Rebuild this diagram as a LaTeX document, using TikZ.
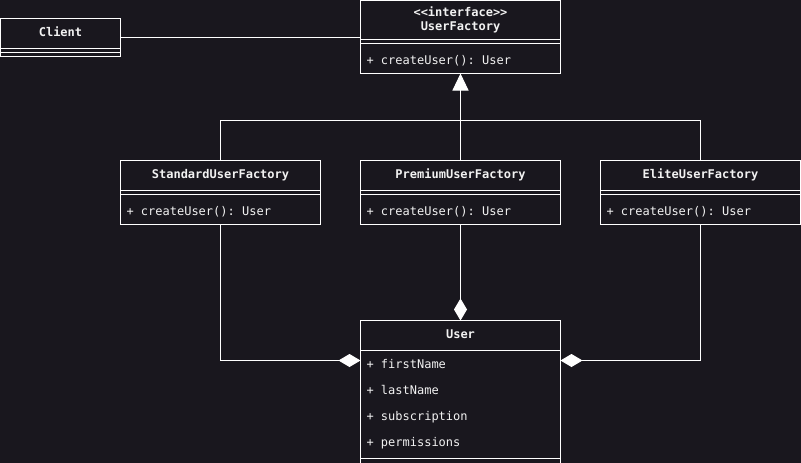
\documentclass[tikz,border=0pt]{standalone}
\usepackage{fontspec}
\setmonofont{DejaVu Sans Mono}
\usepackage{tikz}
\usetikzlibrary{calc}
\usetikzlibrary{arrows.meta}
\usetikzlibrary{positioning}
\definecolor{bgcol}{HTML}{19171E}
\definecolor{fgcol}{HTML}{F2F2F2}
\newcommand{\umlfont}{\ttfamily\fontsize{12}{14}\selectfont}
\tikzset{%
  	% Specifications for style of nodes:
	base/.style = {rectangle, draw=white, line width=1pt, minimum width=200pt,
				   outer sep=0pt, inner sep=0pt, text=fgcol, font=\umlfont},
	head/.style = {base, minimum height=30pt, align=center, font=\umlfont\bfseries},
	slot/.style = {base, minimum height=4pt},
	ops/.style = {base, minimum height=30pt, text width=188pt,
				  inner xsep=6pt, align=flush left, text height=12pt, text depth=0pt},
	inherit/.style = {-{Triangle[length=17pt, width=16pt, fill=white]}},
	compose/.style = {-{Diamond[length=22pt, width=13pt, fill=white]}},
}
\begin{document}
\begin{tikzpicture}[x=1pt, y=-1pt, line width=1pt, draw=white]

	\fill[bgcol] (0,0) rectangle (801,463);
	\useasboundingbox (0,0) rectangle (801,463);

  	% Specification of nodes (position, etc.)
	\begin{scope}[shift={(0.5,0.5)}]

	\node (clientHead)	[head, minimum width=120pt, text height=9pt, text depth=3pt] at (60,33)	{Client};
	\node (clientAttr)	[slot, minimum width=120pt, below=0pt of clientHead]	{};
	\node (clientOps)	[slot, minimum width=120pt, below=0pt of clientAttr]	{};

	\node (factHead)	[head, minimum height=39pt] at (460,19.5)	{<<interface>>\\UserFactory};
	\node (factAttr)	[slot, below=0pt of factHead]	{};
	\node (factOps)		[ops, below=0pt of factAttr]	{+ createUser(): User};

	\node (stdHead)		[head, text height=9pt, text depth=3pt] at (220,175)	{StandardUserFactory};
	\node (stdAttr)		[slot, below=0pt of stdHead]	{};
	\node (stdOps)		[ops, below=0pt of stdAttr]		{+ createUser(): User};

	\node (premHead)	[head, text height=9pt, text depth=3pt] at (460,175)	{PremiumUserFactory};
	\node (premAttr)	[slot, below=0pt of premHead]	{};
	\node (premOps)		[ops, below=0pt of premAttr]	{+ createUser(): User};

	\node (eliteHead)	[head, text height=9pt, text depth=3pt] at (700,175)	{EliteUserFactory};
	\node (eliteAttr)	[slot, below=0pt of eliteHead]	{};
	\node (eliteOps)	[ops, below=0pt of eliteAttr]	{+ createUser(): User};

	\node (userHead)	[head, text height=9pt, text depth=3pt] at (460,335)	{User};
	\node (userAttr)	[ops, minimum height=108pt, text height=, text depth=,
						 font=\umlfont\fontsize{12}{26}\selectfont,
						 below=0pt of userHead]	{+ firstName\\+ lastName\\+ subscription\\+ permissions};
	\node (userOps)		[slot, minimum height=30pt, below=0pt of userAttr]	{};

	% Specification of lines between nodes specified above

	\coordinate (clientMid) at ($(clientHead.north east)!0.5!(clientOps.south east)$);
	\coordinate (fork) at (460,120);
	\coordinate (userLeft) at ($(userAttr.north west)+(0,10)$);
	\coordinate (userRight) at ($(userAttr.north east)+(0,10)$);

	\draw             (clientMid) -- (clientMid -| factHead.west);
	\draw             (stdHead.north) |- (fork) -| (eliteHead.north);
	\draw[inherit]    (premHead.north) -- (factOps.south);
	\draw[compose]    (premOps.south) -- (userHead.north);
	\draw[compose]    (stdOps.south) |- (userLeft);
	\draw[compose]    (eliteOps.south) |- (userRight);

	\end{scope}

\end{tikzpicture}
\end{document}
